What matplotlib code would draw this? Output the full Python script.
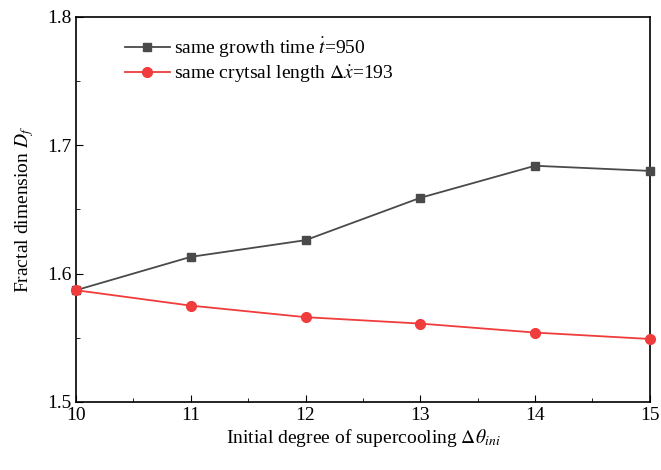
import matplotlib
matplotlib.use('Agg')
from matplotlib import pyplot as plt
from matplotlib.ticker import MultipleLocator

plt.rcParams['font.family'] = 'Liberation Serif'
plt.rcParams['mathtext.fontset'] = 'stix'

supercooling = [10, 11, 12, 13, 14, 15]
same_time = [1.587, 1.613, 1.626, 1.659, 1.684, 1.680]
same_length = [1.587, 1.575, 1.566, 1.561, 1.554, 1.549]

fig = plt.figure(figsize=(6.61, 4.70), dpi=100)
ax = fig.add_axes([0.115, 0.145, 0.868, 0.819])

ax.plot(supercooling, same_time, color='#4a4a4a', marker='s', markersize=6,
        linewidth=1.3, label=r'same growth time $\dot{t}$=950', clip_on=False, zorder=3)
ax.plot(supercooling, same_length, color='#f03c3c', marker='o', markersize=7,
        linewidth=1.3, label=r'same crytsal length $\Delta\dot{x}$=193', clip_on=False, zorder=3)

ax.set_xlim(10, 15)
ax.set_ylim(1.5, 1.8)
ax.xaxis.set_major_locator(MultipleLocator(1))
ax.xaxis.set_minor_locator(MultipleLocator(0.5))
ax.yaxis.set_major_locator(MultipleLocator(0.1))
ax.yaxis.set_minor_locator(MultipleLocator(0.05))
ax.tick_params(which='both', direction='in', labelsize=14)
ax.tick_params(which='major', length=5)
ax.tick_params(which='minor', length=3)
ax.tick_params(axis='x', pad=4)
for s in ax.spines.values():
    s.set_linewidth(1.2)

ax.set_xlabel(r'Initial degree of supercooling $\Delta\theta_{ini}$', fontsize=14, labelpad=2)
ax.set_ylabel(r'Fractal dimension $D_f$', fontsize=14, labelpad=8)

ax.legend(loc='upper left', bbox_to_anchor=(0.055, 0.997), frameon=False, fontsize=14,
          handlelength=2.3, handletextpad=0.2, labelspacing=0.2)

fig.savefig('out.png', dpi=100)
